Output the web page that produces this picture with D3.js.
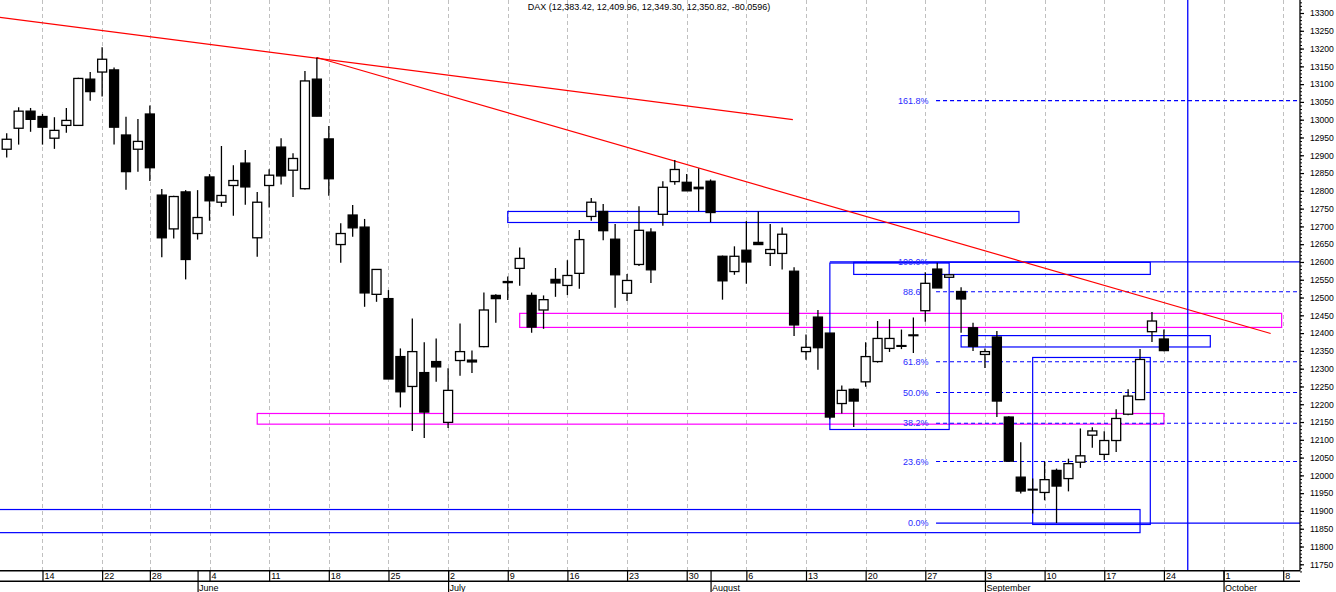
<!DOCTYPE html>
<html>
<head>
<meta charset="utf-8">
<script src="https://cdn.jsdelivr.net/npm/d3@7"></script>
<style>
  body { margin: 0; background: #fff; }
  svg { display: block; font-family: "Liberation Sans", Arial, sans-serif; }
</style>
</head>
<body>
<script>
// canvas and frame
const w = 1336;
const h = 592;
const plotRight = 1300;
const stripTop = 570.7;
const stripMid = 581.3;

// trading days (2018), plus the empty weekdays to the right of the last bar
const dates = [
  "05-09", "05-10", "05-11", "05-14", "05-15", "05-16", "05-17", "05-18", "05-22", "05-23",
  "05-24", "05-25", "05-28", "05-29", "05-30", "05-31", "06-01", "06-04", "06-05", "06-06",
  "06-07", "06-08", "06-11", "06-12", "06-13", "06-14", "06-15", "06-18", "06-19", "06-20",
  "06-21", "06-22", "06-25", "06-26", "06-27", "06-28", "06-29", "07-02", "07-03", "07-04",
  "07-05", "07-06", "07-09", "07-10", "07-11", "07-12", "07-13", "07-16", "07-17", "07-18",
  "07-19", "07-20", "07-23", "07-24", "07-25", "07-26", "07-27", "07-30", "07-31", "08-01",
  "08-02", "08-03", "08-06", "08-07", "08-08", "08-09", "08-10", "08-13", "08-14", "08-15",
  "08-16", "08-17", "08-20", "08-21", "08-22", "08-23", "08-24", "08-27", "08-28", "08-29",
  "08-30", "08-31", "09-03", "09-04", "09-05", "09-06", "09-07", "09-10", "09-11", "09-12",
  "09-13", "09-14", "09-17", "09-18", "09-19", "09-20", "09-21", "09-24", "09-25", "09-26",
  "09-27", "09-28", "10-01", "10-02", "10-03", "10-04", "10-05", "10-08", "10-09"
];

// daily OHLC
const open = [
  12917, 12976, 13024, 13009, 12948, 12984, 12984, 13114, 13134, 13140,
  12957, 12917, 13016, 12788, 12693, 12797, 12680, 12839, 12768, 12815,
  12878, 12668, 12815, 12923, 12858, 12806, 13114, 12946, 12649, 12732,
  12698, 12509, 12497, 12334, 12250, 12289, 12320, 12149, 12323, 12324,
  12362, 12506, 12545, 12582, 12506, 12465, 12551, 12534, 12568, 12728,
  12742, 12664, 12512, 12593, 12684, 12734, 12826, 12824, 12810, 12827,
  12616, 12573, 12633, 12655, 12624, 12624, 12574, 12348, 12445, 12400,
  12202, 12242, 12263, 12320, 12357, 12365, 12395, 12463, 12580, 12557,
  12517, 12415, 12340, 12389, 12164, 11995, 11961, 11952, 12014, 11991,
  12037, 12113, 12059, 12098, 12172, 12213, 12404, 12383.42
];
const high = [
  12962, 13035, 13033, 13016, 13007, 13033, 13118, 13134, 13204, 13147,
  13008, 13002, 13040, 12805, 12786, 12802, 12802, 12847, 12926, 12872,
  12915, 12797, 12861, 12948, 12906, 13137, 13175, 12982, 12709, 12760,
  12721, 12580, 12521, 12357, 12441, 12374, 12385, 12301, 12427, 12351,
  12514, 12509, 12559, 12641, 12514, 12506, 12583, 12605, 12690, 12780,
  12763, 12707, 12566, 12757, 12695, 12827, 12887, 12847, 12863, 12832,
  12618, 12644, 12715, 12742, 12707, 12697, 12585, 12396, 12465, 12400,
  12253, 12244, 12374, 12434, 12439, 12410, 12444, 12571, 12598, 12566,
  12529, 12429, 12357, 12406, 12166, 12093, 11991, 12039, 12019, 12047,
  12132, 12135, 12124, 12186, 12242, 12355, 12459, 12409.96
];
const low = [
  12894, 12930, 12966, 12930, 12918, 12963, 12982, 13053, 13065, 12930,
  12803, 12854, 12828, 12613, 12666, 12551, 12663, 12716, 12755, 12730,
  12761, 12615, 12753, 12818, 12783, 12804, 13010, 12786, 12598, 12671,
  12474, 12488, 12271, 12191, 12125, 12105, 12263, 12133, 12280, 12288,
  12360, 12429, 12493, 12533, 12401, 12412, 12502, 12507, 12525, 12716,
  12661, 12471, 12490, 12589, 12541, 12702, 12817, 12800, 12743, 12712,
  12494, 12564, 12539, 12649, 12589, 12579, 12392, 12325, 12297, 12158,
  12174, 12136, 12249, 12317, 12347, 12355, 12344, 12432, 12527, 12555,
  12401, 12350, 12302, 12164, 12040, 11949, 11893, 11930, 11866, 11955,
  12021, 12078, 12043, 12066, 12169, 12213, 12375, 12349.30
];
const close = [
  12945, 13024, 13001, 12979, 12970, 12998, 13116, 13079, 13170, 12979,
  12854, 12939, 12865, 12668, 12784, 12607, 12725, 12772, 12787, 12829,
  12811, 12768, 12844, 12842, 12891, 13109, 13010, 12834, 12680, 12696,
  12513, 12579, 12271, 12235, 12348, 12178, 12305, 12239, 12348, 12319,
  12465, 12497, 12542, 12610, 12417, 12494, 12541, 12562, 12663, 12768,
  12688, 12564, 12548, 12689, 12578, 12810, 12860, 12800, 12806, 12739,
  12547, 12616, 12600, 12649, 12635, 12678, 12423, 12360, 12359, 12164,
  12239, 12209, 12334, 12385, 12385, 12365, 12395, 12540, 12527, 12564,
  12496, 12363, 12348, 12209, 12040, 11956, 11960, 11988, 11970, 12033,
  12055, 12125, 12098, 12160, 12223, 12326, 12434, 12350.82
];

const title = "DAX (12,383.42, 12,409.96, 12,349.30, 12,350.82, -80.0596)";

// price axis
const priceMin = 11750;
const priceMax = 13300;

// fibonacci retracement drawn on the chart
const fibLow = 11866;
const fibHigh = 12600;
const fibRatios = [0, 0.236, 0.382, 0.5, 0.618, 0.886, 1, 1.618];
const fibLabels = ["0.0%", "23.6%", "38.2%", "50.0%", "61.8%", "88.6%", "100.0%", "161.8%"];
const fibSolid = [true, false, false, false, false, false, true, false];
const fibStart = 77.9;      // bar position where the levels begin
const fib100From = 69;      // the 100% line reaches further left

// drawn trend lines (bar position, price)
const trendLines = [
  { b1: -0.6, p1: 13288, b2: 65.9, p2: 13000 },
  { b1: 26, p1: 13175, b2: 105.95, p2: 12399 }
];

// drawn boxes (bar positions, prices)
const zones = [
  { b1: 42, b2: 84.85, top: 12742, bottom: 12711, color: "#0000ff" },
  { b1: 43, b2: 106.87, top: 12455.5, bottom: 12416, color: "#ff00ff" },
  { b1: 21, b2: 97, top: 12174, bottom: 12144, color: "#ff00ff" },
  { b1: 69, b2: 79, top: 12597, bottom: 12129, color: "#0000ff" },
  { b1: 71, b2: 95.86, top: 12599, bottom: 12565, color: "#0000ff" },
  { b1: 80, b2: 100.89, top: 12393, bottom: 12361, color: "#0000ff" },
  { b1: 86, b2: 95.86, top: 12331.5, bottom: 11862, color: "#0000ff" },
  { b1: -2, b2: 95, top: 11904, bottom: 11839, color: "#0000ff" }
];

// vertical cursor line
const cursorDate = "09-26";

const parse = d3.timeParse("%Y-%m-%d");
const days = dates.map((d) => parse("2018-" + d));

const candles = open.map((o, i) => ({ i, o, h: high[i], l: low[i], c: close[i] }));

// week starts and month starts (first bar not counted: its week began off screen)
const weekIdx = [];
const monthIdx = [];
days.forEach((d, i) => {
  if (i === 0) return;
  if (+d3.timeMonday(d) !== +d3.timeMonday(days[i - 1])) weekIdx.push(i);
  if (d.getMonth() !== days[i - 1].getMonth()) monthIdx.push(i);
});

// scales
const x = d3.scaleLinear().domain([0, 107]).range([6.7, 1283.2]);
const y = d3.scaleLinear().domain([priceMin, priceMax]).range([564.3, 13]);

const svg = d3.select("body").append("svg").attr("width", w).attr("height", h);

// vertical dashed grid at week starts
svg.append("g")
  .selectAll("line")
  .data(weekIdx)
  .join("line")
  .attr("x1", (i) => Math.round(x(i)) + 0.5)
  .attr("x2", (i) => Math.round(x(i)) + 0.5)
  .attr("y1", 0)
  .attr("y2", stripTop)
  .attr("stroke", "#c0c0c0")
  .attr("stroke-width", 1)
  .attr("stroke-dasharray", "4,3");

// title
svg.append("text")
  .attr("x", 649)
  .attr("y", 9.5)
  .attr("text-anchor", "middle")
  .attr("font-size", 9)
  .attr("fill", "#000")
  .text(title);

// boxes
svg.append("g")
  .selectAll("rect")
  .data(zones)
  .join("rect")
  .attr("x", (d) => x(d.b1))
  .attr("y", (d) => y(d.top))
  .attr("width", (d) => x(d.b2) - x(d.b1))
  .attr("height", (d) => y(d.bottom) - y(d.top))
  .attr("fill", "none")
  .attr("stroke", (d) => d.color)
  .attr("stroke-width", 1.2);

// fibonacci levels
const fib = fibRatios.map((r, k) => ({
  price: fibLow + r * (fibHigh - fibLow),
  label: fibLabels[k],
  solid: fibSolid[k],
  from: r === 1 ? fib100From : fibStart
}));
const fibG = svg.append("g");
fibG.selectAll("line")
  .data(fib)
  .join("line")
  .attr("x1", (d) => x(d.from))
  .attr("x2", plotRight)
  .attr("y1", (d) => y(d.price))
  .attr("y2", (d) => y(d.price))
  .attr("stroke", "#0000ff")
  .attr("stroke-width", (d) => (d.solid ? 1.2 : 1.1))
  .attr("stroke-dasharray", (d) => (d.solid ? null : "4,3"));
fibG.selectAll("text")
  .data(fib)
  .join("text")
  .attr("x", x(fibStart) - 7.5)
  .attr("y", (d) => y(d.price))
  .attr("dy", "0.35em")
  .attr("text-anchor", "end")
  .attr("font-size", 9)
  .attr("fill", "#2a2aff")
  .text((d) => d.label);

// trend lines
svg.append("g")
  .selectAll("line")
  .data(trendLines)
  .join("line")
  .attr("x1", (d) => x(d.b1))
  .attr("y1", (d) => y(d.p1))
  .attr("x2", (d) => x(d.b2))
  .attr("y2", (d) => y(d.p2))
  .attr("stroke", "#ff0000")
  .attr("stroke-width", 1.2);

// cursor line
const ci = dates.indexOf(cursorDate);
svg.append("line")
  .attr("x1", x(ci))
  .attr("x2", x(ci))
  .attr("y1", 0)
  .attr("y2", stripTop)
  .attr("stroke", "#0000ff")
  .attr("stroke-width", 1.3);

// candles
const bodyW = 9;
const cg = svg.append("g")
  .selectAll("g")
  .data(candles)
  .join("g");
cg.append("line")
  .attr("x1", (d) => x(d.i))
  .attr("x2", (d) => x(d.i))
  .attr("y1", (d) => y(d.h))
  .attr("y2", (d) => y(d.l))
  .attr("stroke", "#000")
  .attr("stroke-width", 1.3);
cg.append("rect")
  .attr("x", (d) => x(d.i) - bodyW / 2)
  .attr("y", (d) => y(Math.max(d.o, d.c)))
  .attr("width", bodyW)
  .attr("height", (d) => Math.max(Math.abs(y(d.o) - y(d.c)), 0.8))
  .attr("fill", (d) => (d.c >= d.o ? "#fff" : "#000"))
  .attr("stroke", "#000")
  .attr("stroke-width", 1.3);

// right price axis: minor ticks every 10, labels every 50
const minorAxis = d3.axisRight(y)
  .tickValues(d3.range(11730, 13340, 10))
  .tickSize(2)
  .tickFormat("");
svg.append("g")
  .attr("transform", `translate(${plotRight},0)`)
  .call(minorAxis)
  .call((g) => g.select(".domain").remove())
  .call((g) => g.selectAll("line").attr("stroke", "#000"));

const majorAxis = d3.axisRight(y)
  .tickValues(d3.range(priceMin, priceMax + 1, 50))
  .tickSize(4)
  .tickPadding(6)
  .tickFormat(d3.format("d"));
svg.append("g")
  .attr("transform", `translate(${plotRight},0)`)
  .call(majorAxis)
  .call((g) => g.select(".domain").remove())
  .call((g) => g.selectAll("line").attr("stroke", "#000").attr("stroke-width", 1.2))
  .call((g) => g.selectAll("text")
    .attr("font-family", "'Liberation Sans', Arial, sans-serif")
    .attr("font-size", 8.6)
    .attr("fill", "#000"));

svg.append("line")
  .attr("x1", plotRight).attr("x2", plotRight)
  .attr("y1", 0).attr("y2", stripTop)
  .attr("stroke", "#000").attr("stroke-width", 1.3);

// date strip
[stripTop, stripMid].forEach((yy) => {
  svg.append("line")
    .attr("x1", 0).attr("x2", plotRight)
    .attr("y1", yy).attr("y2", yy)
    .attr("stroke", "#000").attr("stroke-width", 1.5);
});

const dayAxis = d3.axisBottom(x)
  .tickValues(weekIdx)
  .tickSize(stripMid - stripTop)
  .tickFormat((i) => d3.timeFormat("%-d")(days[i]));
svg.append("g")
  .attr("transform", `translate(0,${stripTop})`)
  .call(dayAxis)
  .call((g) => g.select(".domain").remove())
  .call((g) => g.selectAll("line").attr("stroke", "#000").attr("stroke-width", 1.2))
  .call((g) => g.selectAll("text")
    .attr("text-anchor", "start")
    .attr("x", 1.5)
    .attr("y", 8)
    .attr("dy", null)
    .attr("font-family", "'Liberation Sans', Arial, sans-serif")
    .attr("font-size", 9)
    .attr("fill", "#000"));

const monthAxis = d3.axisBottom(x)
  .tickValues(monthIdx)
  .tickSize(h - stripTop)
  .tickFormat((i) => d3.timeFormat("%B")(days[i]));
svg.append("g")
  .attr("transform", `translate(0,${stripTop})`)
  .call(monthAxis)
  .call((g) => g.select(".domain").remove())
  .call((g) => g.selectAll("line").attr("stroke", "#000").attr("stroke-width", 1.2))
  .call((g) => g.selectAll("text")
    .attr("text-anchor", "start")
    .attr("x", 1)
    .attr("y", 20.4)
    .attr("dy", null)
    .attr("font-family", "'Liberation Sans', Arial, sans-serif")
    .attr("font-size", 9)
    .attr("fill", "#000"));
</script>
</body>
</html>
